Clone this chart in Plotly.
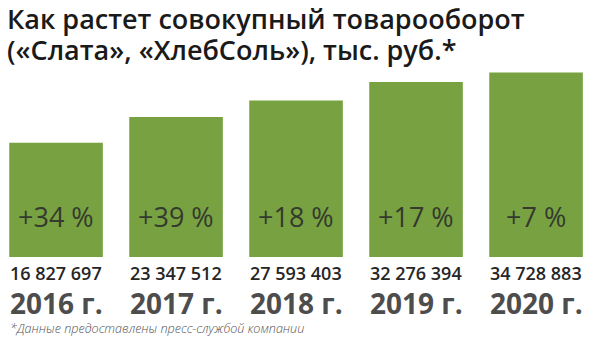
import plotly.graph_objects as go

years = ["2016 г.", "2017 г.", "2018 г.", "2019 г.", "2020 г."]
values = [16827697, 23347512, 27593403, 32276394, 34728883]
value_labels = ["16 827 697", "23 347 512", "27 593 403", "32 276 394", "34 728 883"]
growth = ["+34 %", "+39 %", "+18 %", "+17 %", "+7 %"]

title_lines = ["Как растет совокупный товарооборот", "(«Слата», «ХлебСоль»), тыс. руб.*"]
footnote = "*Данные предоставлены пресс-службой компании"

AXIS_MIN = -12.3e6
AXIS_MAX = 37.9e6
GREEN = "#78A241"
FONT = "Open Sans"

fig = go.Figure()
fig.add_trace(go.Bar(
    x=years, y=[v - AXIS_MIN for v in values], base=AXIS_MIN,
    marker=dict(color=GREEN, line=dict(width=0)),
    hoverinfo="skip",
))

ann = []
for yr, g, vl in zip(years, growth, value_labels):
    ann.append(dict(x=yr, xref="x", y=0.208, yref="paper", text=g, showarrow=False,
                    xanchor="center", yanchor="middle",
                    font=dict(family=FONT, size=27, color="#353a2f", weight=500)))
    ann.append(dict(x=yr, xref="x", y=-0.081, yref="paper", text=vl, showarrow=False,
                    xanchor="center", yanchor="middle",
                    font=dict(family=FONT, size=18, color="#262626", weight=600)))
    ann.append(dict(x=yr, xref="x", y=-0.233, yref="paper", text=yr, showarrow=False,
                    xanchor="center", yanchor="middle",
                    font=dict(family=FONT, size=28, color="#4d4d4d", weight=700)))
ann.append(dict(x=8 / 600, xref="paper", y=-0.365, yref="paper", text="<i>" + footnote + "</i>",
                showarrow=False, xanchor="left", yanchor="middle",
                font=dict(family=FONT, size=12.6, color="#555555", weight=300)))
for line, py in zip(title_lines, [1.2107, 1.0532]):
    ann.append(dict(x=5 / 600, xref="paper", y=py, yref="paper", text=line, showarrow=False,
                    xanchor="left", yanchor="middle",
                    font=dict(family=FONT, size=27, color="#1a1a1a", weight=600)))

fig.update_layout(
    width=600, height=348,
    margin=dict(l=0, r=0, t=60, b=91),
    paper_bgcolor="white", plot_bgcolor="white",
    bargap=0.22,
    showlegend=False,
    xaxis=dict(range=[-0.467, 4.533], showticklabels=False, showgrid=False,
               zeroline=False, showline=False, ticks=""),
    yaxis=dict(range=[AXIS_MIN, AXIS_MAX], showticklabels=False, showgrid=False,
               zeroline=False, showline=False, ticks=""),
    annotations=ann,
)

fig.write_html("out.html")
